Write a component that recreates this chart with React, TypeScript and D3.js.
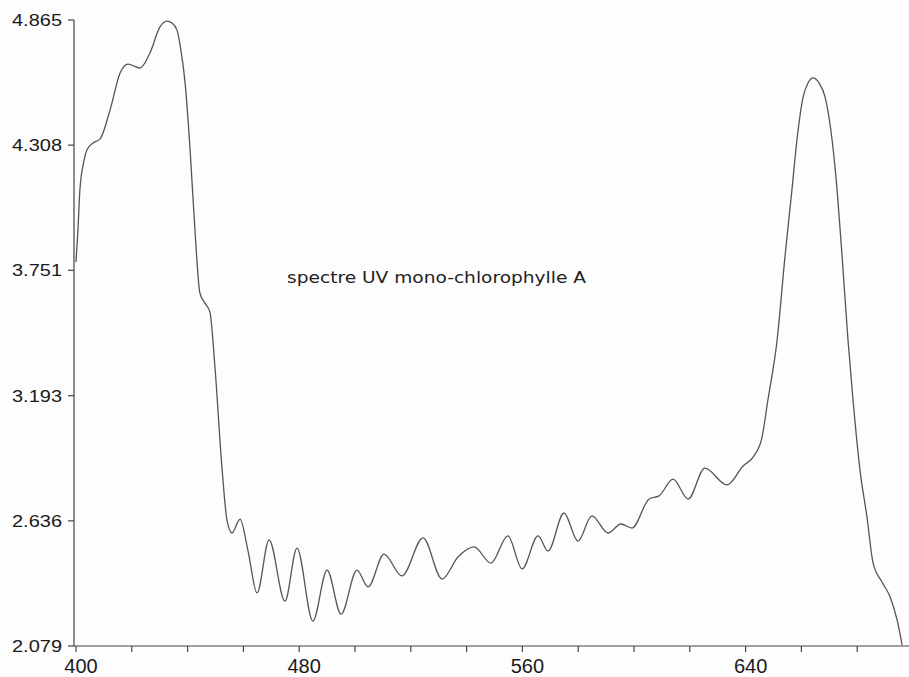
import React from "react";
import * as d3 from "d3";

const wavelengths = [
  400, 400.7, 401.4, 402.9, 403.9, 406.1, 408.6, 412.2, 415.8, 418.6, 420.8, 422.9,
  426.5, 430.1, 432.6, 434.4, 436.2, 437.6, 439.1, 440.9, 442.7, 444.4, 446.2, 448.0,
  449.8, 452.3, 454.1, 455.9, 458.8, 461.6, 464.9, 469.2, 474.9, 479.2, 484.9, 490.0,
  495.0, 500.7, 504.7, 510.4, 516.8, 524.4, 531.2, 536.9, 542.7, 548.7, 554.8, 559.9,
  565.6, 569.2, 574.9, 579.9, 584.9, 590.7, 595.3, 599.3, 605.4, 609.0, 614.0, 619.4,
  625.4, 633.3, 639.1, 643.0, 645.9, 648.0, 651.3, 654.1, 656.6, 658.4, 660.6, 662.4,
  664.2, 666.3, 668.5, 671.0, 672.8, 674.6, 676.7, 678.5, 681.0, 683.5, 685.7, 688.9,
  691.8, 694.3, 696.1,
];

const absorbance = [
  3.788, 3.93, 4.11, 4.24, 4.286, 4.318, 4.335, 4.464, 4.629, 4.669, 4.66, 4.651,
  4.718, 4.834, 4.86, 4.852, 4.82, 4.731, 4.585, 4.286, 3.917, 3.65, 3.605, 3.565,
  3.321, 2.876, 2.64, 2.582, 2.644, 2.506, 2.315, 2.551, 2.279, 2.515, 2.19, 2.417,
  2.221, 2.417, 2.342, 2.488, 2.391, 2.56, 2.377, 2.475, 2.52, 2.448, 2.569, 2.422,
  2.569, 2.502, 2.671, 2.546, 2.658, 2.582, 2.622, 2.604, 2.733, 2.747, 2.822, 2.733,
  2.871, 2.796, 2.88, 2.925, 3.009, 3.174, 3.441, 3.81, 4.108, 4.331, 4.522, 4.585,
  4.607, 4.585, 4.522, 4.331, 4.108, 3.81, 3.441, 3.174, 2.862, 2.653, 2.448, 2.364,
  2.297, 2.195, 2.083,
];

const yTicks = [2.079, 2.636, 3.193, 3.751, 4.308, 4.865];
const yTickLabels = ["2.079", "2.636", "3.193", "3.751", "4.308", "4.865"];
const xMajorTicks = [400, 480, 560, 640];
const xMinorTicks = [400, 420, 440, 460, 480, 500, 520, 540, 560, 580, 600, 620, 640, 660, 680];
const title = "spectre UV mono-chlorophylle A";

export default function App() {
  const W = 909;
  const H = 677;
  const x = d3.scaleLinear().domain([400, 700]).range([76, 913]);
  const y = d3.scaleLinear().domain([2.079, 4.865]).range([646, 20]);
  const axisX = 74;
  const points: [number, number][] = wavelengths.map((w, i) => [w, absorbance[i]]);
  const line = d3
    .line<[number, number]>()
    .x((d) => x(d[0]))
    .y((d) => y(d[1]))
    .curve(d3.curveMonotoneX);
  const font = "'Liberation Sans', Arial, sans-serif";
  return (
    <svg
      width={W}
      height={H}
      style={{ position: "absolute", left: 0, top: 0, background: "#fdfdfd" }}
    >
      <rect x={0} y={0} width={W} height={H} fill="#fdfdfd" />
      <line x1={axisX} x2={axisX} y1={y(4.865)} y2={y(2.079)} stroke="#444" strokeWidth={1.2} />
      {yTicks.map((t, i) => (
        <g key={"y" + i}>
          <line x1={axisX - 6} x2={axisX} y1={y(t)} y2={y(t)} stroke="#444" strokeWidth={1.2} />
          <text
            x={62}
            y={y(t)}
            dy="0.36em"
            textAnchor="end"
            fontFamily={font}
            fontSize={17}
            fill="#1a1a1a"
            textLength={50}
            lengthAdjust="spacingAndGlyphs"
          >
            {yTickLabels[i]}
          </text>
        </g>
      ))}
      <line x1={axisX} x2={W} y1={y(2.079)} y2={y(2.079)} stroke="#444" strokeWidth={1.2} />
      {xMinorTicks.map((t) => (
        <line key={"xm" + t} x1={x(t)} x2={x(t)} y1={y(2.079)} y2={y(2.079) + 6} stroke="#444" strokeWidth={1.2} />
      ))}
      {xMajorTicks.map((t) => (
        <text
          key={"xl" + t}
          x={x(t) + 5}
          y={673}
          textAnchor="middle"
          fontFamily={font}
          fontSize={20}
          fill="#1a1a1a"
        >
          {t}
        </text>
      ))}
      <path d={line(points) || ""} fill="none" stroke="#555" strokeWidth={1.3} />
      <text
        x={287}
        y={283}
        fontFamily="'DejaVu Sans', Verdana, sans-serif"
        fontSize={15}
        fill="#222"
        textLength={299}
        lengthAdjust="spacingAndGlyphs"
      >
        {title}
      </text>
    </svg>
  );
}
